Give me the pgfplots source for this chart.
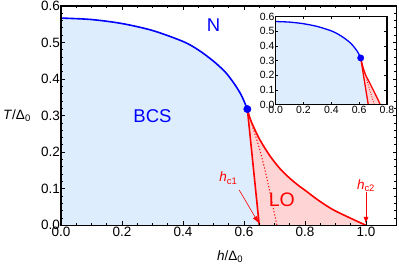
\documentclass[border=0pt]{standalone}
\usepackage{fontspec}
\setmainfont{Liberation Sans}
\usepackage{pgfplots}
\pgfplotsset{compat=1.18}
\usetikzlibrary{arrows.meta}
\definecolor{bcsfill}{RGB}{221,237,253}
\definecolor{lofill}{RGB}{255,212,212}
\begin{document}
\begin{tikzpicture}[font=\fontsize{13.5}{15}\selectfont]
\begin{axis}[
  scale only axis, width=335.5pt, height=219.3pt,
  xmin=0, xmax=1.1, ymin=0, ymax=0.6,
  clip mode=individual,
  xtick={0,0.2,0.4,0.6,0.8,1.0},
  ytick={0,0.1,0.2,0.3,0.4,0.5,0.6},
  minor x tick num=3, minor y tick num=4,
  tick align=inside, tick pos=both, ticklabel pos=left,
  major tick length=4pt, minor tick length=2.2pt,
  every tick/.style={black, line width=0.9pt},
  axis line style={line width=1.4pt},
  /pgf/number format/.cd, fixed, fixed zerofill, precision=1, assume math mode=true,
  /pgfplots/.cd,
  tick label style={font=\fontsize{13.5}{15}\selectfont},
  xticklabel style={inner sep=1.5pt},
  yticklabel style={inner sep=1pt},
  axis on top,
]
% BCS region
\addplot[draw=none, fill=bcsfill] coordinates {
 (0,0) (0,0.567) (0.1,0.563) (0.2,0.552) (0.3,0.533) (0.4,0.503) (0.45,0.480)
 (0.5,0.449) (0.54,0.418) (0.57,0.385) (0.59,0.358) (0.60,0.340) (0.611,0.318)
 (0.650,0) } \closedcycle;
% LO region
\addplot[draw=none, fill=lofill] coordinates {
 (0.611,0.318) (0.620,0.292) (0.631,0.270) (0.652,0.234) (0.685,0.190) (0.718,0.155)
 (0.751,0.128) (0.780,0.108) (0.800,0.096) (0.833,0.075) (0.866,0.056) (0.898,0.040)
 (0.953,0.018) (1.0,0.0) (0.650,0) (0.611,0.318) };
% second-order BCS line
\addplot[blue, line width=1.6pt, smooth] coordinates {
 (0,0.567) (0.1,0.563) (0.2,0.552) (0.3,0.533) (0.4,0.503) (0.45,0.480)
 (0.5,0.449) (0.54,0.418) (0.57,0.385) (0.59,0.358) (0.60,0.340) (0.611,0.318) };
% hc2 line
\addplot[red, line width=1.6pt, smooth] coordinates {
 (0.611,0.318) (0.620,0.292) (0.631,0.270) (0.652,0.234) (0.685,0.190) (0.718,0.155)
 (0.751,0.128) (0.780,0.108) (0.800,0.096) (0.833,0.075) (0.866,0.056) (0.898,0.040)
 (0.953,0.018) (1.0,0.0) };
% hc1 line
\addplot[red, line width=1.6pt] coordinates { (0.611,0.318) (0.650,0) };
% dotted line
\addplot[red, line width=1pt, dash pattern=on 1.2pt off 2pt, smooth] coordinates {
 (0.611,0.318) (0.630,0.265) (0.652,0.206) (0.674,0.133) (0.690,0.070) (0.708,0) };
% tricritical point
\addplot[only marks, mark=*, mark size=3.7pt, blue] coordinates {(0.611,0.318)};
% arrows
\draw[red, line width=0.6pt, -{Latex[length=7pt,width=5pt]}] (axis cs:0.584,0.097) -- (axis cs:0.648,0.006);
\draw[red, line width=0.6pt, -{Latex[length=7pt,width=5pt]}] (axis cs:1.0,0.092) -- (axis cs:1.0,0.004);
% labels
\node[blue, font=\fontsize{18.5}{20}\selectfont] at (axis cs:0.30,0.30) {BCS};
\node[blue, font=\fontsize{18.5}{20}\selectfont] at (axis cs:0.50,0.549) {N};
\node[red, font=\fontsize{19.5}{21}\selectfont] at (axis cs:0.724,0.069) {LO};
\node[red] at (axis cs:0.549,0.129) {\textit{h}\textsubscript{c1}};
\node[red] at (axis cs:1.0,0.108) {\textit{h}\textsubscript{c2}};
\node[anchor=west, inner sep=0pt] at (axis description cs:-0.1729,0.5) {\textit{T}/Δ\textsubscript{0}};
\node at (axis description cs:0.504,-0.143) {\textit{h}/Δ\textsubscript{0}};
\end{axis}
\begin{axis}[
  at={(214.7pt,120.8pt)}, anchor=south west,
  scale only axis, width=111.3pt, height=87.8pt,
  xmin=0, xmax=0.8, ymin=0, ymax=0.6,
  xtick={0,0.2,0.4,0.6,0.8},
  ytick={0,0.1,0.2,0.3,0.4,0.5,0.6},
  tick align=inside, tick pos=both, ticklabel pos=left,
  major tick length=2.5pt,
  every tick/.style={black, line width=0.7pt},
  axis line style={line width=1.4pt},
  axis background/.style={fill=white},
  /pgf/number format/.cd, fixed, fixed zerofill, precision=1, assume math mode=true,
  /pgfplots/.cd,
  tick label style={font=\fontsize{10.5}{11}\selectfont},
  xticklabel style={inner sep=1pt},
  yticklabel style={inner sep=1pt},
  axis on top,
]
\addplot[draw=none, fill=bcsfill] coordinates {
 (0,0) (0,0.567) (0.1,0.563) (0.2,0.552) (0.3,0.533) (0.4,0.503) (0.45,0.480)
 (0.5,0.449) (0.54,0.418) (0.57,0.385) (0.59,0.358) (0.60,0.340) (0.611,0.318)
 (0.665,0) } \closedcycle;
\addplot[draw=none, fill=lofill] coordinates {
 (0.611,0.318) (0.625,0.262) (0.645,0.205) (0.677,0.145) (0.705,0.092) (0.725,0.053)
 (0.742,0.020) (0.750,0) (0.665,0) (0.611,0.318) };
\addplot[blue, line width=1.3pt, smooth] coordinates {
 (0,0.567) (0.1,0.563) (0.2,0.552) (0.3,0.533) (0.4,0.503) (0.45,0.480)
 (0.5,0.449) (0.54,0.418) (0.57,0.385) (0.59,0.358) (0.60,0.340) (0.611,0.318) };
\addplot[red, line width=1.3pt, smooth] coordinates {
 (0.611,0.318) (0.625,0.262) (0.645,0.205) (0.677,0.145) (0.705,0.092) (0.725,0.053)
 (0.742,0.020) (0.750,0) };
\addplot[red, line width=1.3pt] coordinates { (0.611,0.318) (0.665,0) };
\addplot[red, line width=0.7pt, dash pattern=on 1pt off 1.5pt] coordinates { (0.611,0.318) (0.660,0.15) (0.708,0) };
\addplot[only marks, mark=*, mark size=3.2pt, blue] coordinates {(0.611,0.318)};
\end{axis}
\pgfresetboundingbox
\path[use as bounding box] (-61pt,-40.7pt) rectangle (338pt,225.3pt);
\end{tikzpicture}
\end{document}
